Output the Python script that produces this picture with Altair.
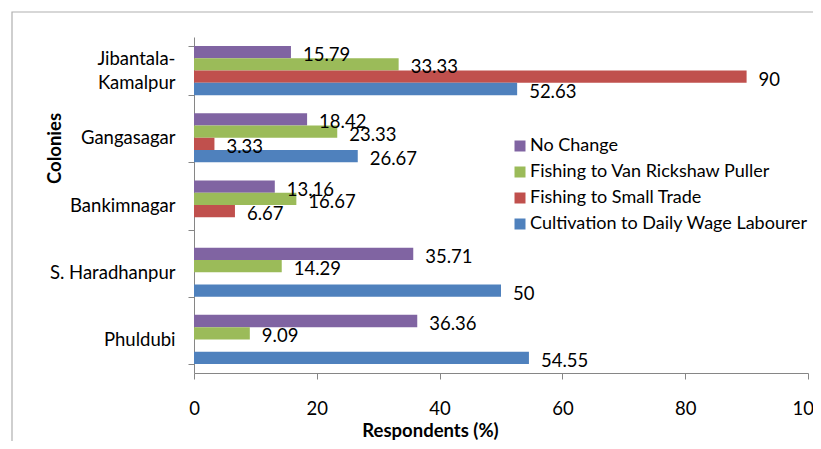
import altair as alt
import pandas as pd

colonies = ["Jibantala-Kamalpur", "Gangasagar", "Bankimnagar", "S. Haradhanpur", "Phuldubi"]
series = ["No Change", "Fishing to Van Rickshaw Puller", "Fishing to Small Trade",
          "Cultivation to Daily Wage Labourer"]
colors = ["#8064A2", "#9BBB59", "#C0504D", "#4F81BD"]

no_change = [15.79, 18.42, 13.16, 35.71, 36.36]
van_rickshaw = [33.33, 23.33, 16.67, 14.29, 9.09]
small_trade = [90, 3.33, 6.67, None, None]
daily_wage = [52.63, 26.67, None, 50, 54.55]

rows = []
for s, vals in zip(series, [no_change, van_rickshaw, small_trade, daily_wage]):
    for c, v in zip(colonies, vals):
        if v is not None:
            rows.append({"colony": c, "series": s, "value": v, "label": f"{v:g}"})
df = pd.DataFrame(rows)

FONT = "Lato"
FS = 18.5

base = alt.Chart(df).encode(
    y=alt.Y("colony:N", sort=colonies,
            scale=alt.Scale(paddingInner=0.27, paddingOuter=0.135),
            axis=alt.Axis(title="Colonies", tickBand="extent", tickSize=6,
                          labelPadding=13, labelFontSize=FS, labelFont=FONT,
                          labelColor="black", labelLineHeight=24,
                          labelExpr="datum.value == 'Jibantala-Kamalpur' ? ['Jibantala-', 'Kamalpur'] : datum.label",
                          labelOffset=alt.ExprRef("datum.value == 'Jibantala-Kamalpur' ? -12 : 0"),
                          titleFont=FONT, titleFontSize=FS, titleFontWeight="bold",
                          titleColor="black", titleX=-140, titleY=111, titleAngle=270,
                          titleAlign="center", titleBaseline="middle",
                          domainColor="#868686", tickColor="#868686", grid=False)),
    yOffset=alt.YOffset("series:N", sort=series,
                        scale=alt.Scale(domain=series, paddingInner=0, paddingOuter=0)),
)

bars = base.mark_bar().encode(
    x=alt.X("value:Q", scale=alt.Scale(domain=[0, 100], nice=False),
            axis=alt.Axis(title="Respondents (%)", values=[0, 20, 40, 60, 80, 100],
                          tickSize=6, labelPadding=20, labelFontSize=FS, labelFont=FONT,
                          labelColor="black", labelFlush=False,
                          titleFont=FONT, titleFontSize=FS, titleFontWeight="bold",
                          titleColor="black", titleX=236, titleY=57,
                          titleAlign="center", titleBaseline="middle",
                          domainColor="#868686", tickColor="#868686", grid=False)),
    color=alt.Color("series:N", sort=series,
                    scale=alt.Scale(domain=series, range=colors),
                    legend=alt.Legend(title=None, orient="none", legendX=317, legendY=100,
                                      symbolType="square", symbolSize=121,
                                      symbolStrokeWidth=0, labelFont=FONT,
                                      labelFontSize=18, labelColor="black",
                                      labelOffset=1, rowPadding=8, padding=0,
                                      labelLimit=400)),
)

labels = base.mark_text(align="left", baseline="middle", dx=12, dy=3,
                        font=FONT, fontSize=FS, color="black").encode(
    x=alt.X("value:Q"),
    text="label:N",
)

border = alt.Chart(alt.Data(values=[{"k": 1}])).mark_rect(
    filled=False, stroke="#b0b0b0", strokeWidth=1.2).encode(
    x=alt.value(-182), x2=alt.value(1000), y=alt.value(-25), y2=alt.value(1000))

chart = alt.layer(border, bars, labels).properties(
    width=614, height=336,
    autosize=alt.AutoSizeParams(type="none"),
    padding={"left": 186, "top": 29, "right": 5, "bottom": 68},
    background="white",
).configure_view(stroke=None)

chart.save("out.html", embed_options={"renderer": "svg", "actions": False})
